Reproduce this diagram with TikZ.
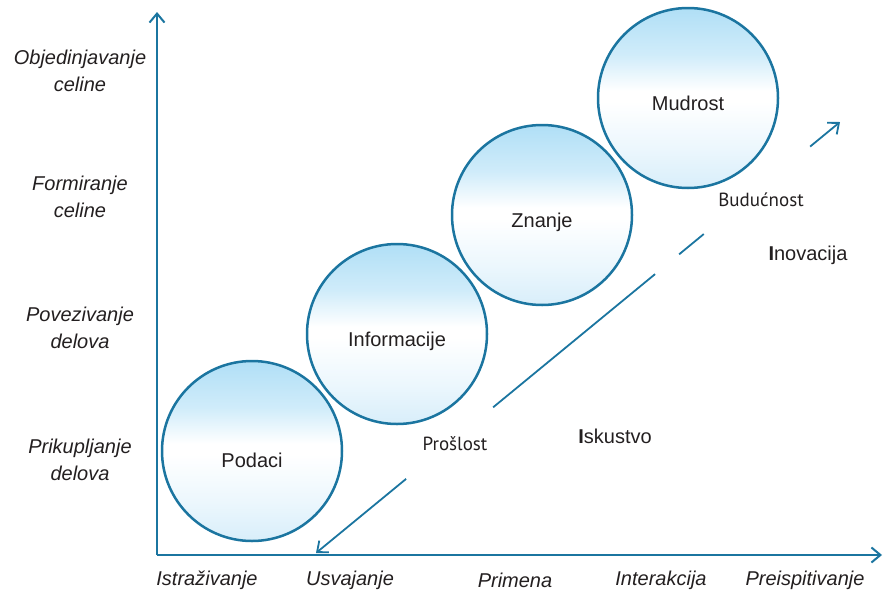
\documentclass[tikz,border=0pt]{standalone}
\usepackage{fontspec}
\setmainfont{Liberation Sans}
\newfontfamily\timefont{PT Sans}
\usetikzlibrary{arrows.meta,calc}

\definecolor{axisblue}{RGB}{27,117,160}
\definecolor{balltop}{RGB}{176,223,246}
\definecolor{ballupper}{RGB}{208,236,250}
\definecolor{balllower}{RGB}{236,247,253}
\definecolor{ballbottom}{RGB}{216,238,250}
\definecolor{inktext}{RGB}{35,31,32}

\pgfdeclareverticalshading{ballshade}{100bp}{color(0bp)=(ballbottom); color(25bp)=(ballbottom);
  color(36bp)=(balllower); color(49bp)=(white); color(52bp)=(white); color(62bp)=(ballupper);
  color(75bp)=(balltop); color(100bp)=(balltop)}

\tikzset{
  axis/.style={draw=axisblue,line width=2pt,-{Straight Barb[length=9pt,width=15pt]}},
  path/.style={draw=axisblue,line width=1.8pt},
  ball/.style={circle,draw=axisblue,line width=2.5pt,minimum size=180pt,inner sep=0pt,
    shading=ballshade,text=inktext,text height=28.5pt,text depth=4.2pt,
    font=\fontsize{20}{24}\selectfont},
  ylab/.style={align=center,text=inktext,font=\fontsize{20}{27}\selectfont\itshape},
  xlab/.style={text=inktext,font=\fontsize{20}{24}\selectfont\itshape},
  note/.style={text=inktext,font=\fontsize{20}{24}\selectfont}
}

\begin{document}
\begin{tikzpicture}[x=1pt,y=-1pt]
  \useasboundingbox (0,0) rectangle (886,592);

  \coordinate (origin) at (157,555);
  \coordinate (ytop) at (157,12);
  \coordinate (xend) at (882,555);
  \draw[axis] (origin) -- (ytop);
  \draw[axis] (origin) -- (xend);

  \node[ylab] (y1) at (80,460) {Prikupljanje\\delova};
  \node[ylab] (y2) at (80,328) {Povezivanje\\delova};
  \node[ylab] (y3) at (80,197) {Formiranje\\celine};
  \node[ylab] (y4) at (80,71) {Objedinjavanje\\celine};

  \node[xlab] (x1) at (207,580) {Istraživanje};
  \node[xlab] (x2) at (350,580) {Usvajanje};
  \node[xlab] (x3) at (515,580) {Primena};
  \node[xlab] (x4) at (661,580) {Interakcija};
  \node[xlab] (x5) at (805,580) {Preispitivanje};

  \node[ball,text height=38pt] (podaci) at (252,451) {Podaci};
  \node[ball] (informacije) at (397,334) {Informacije};
  \node[ball] (znanje) at (542,215) {Znanje};
  \node[ball] (mudrost) at (688,98) {Mudrost};

  % time line, broken where the labels sit
  \coordinate (past) at (316,553);
  \coordinate (future) at (840,122);
  \draw[path,{Straight Barb[length=9pt,width=15pt]}-] (past) -- ($(past)!0.172!(future)$);
  \draw[path] ($(past)!0.338!(future)$) -- ($(past)!0.647!(future)$);
  \draw[path] ($(past)!0.693!(future)$) -- ($(past)!0.740!(future)$);
  \draw[path,-{Straight Barb[length=9pt,width=15pt]}] ($(past)!0.943!(future)$) -- (future);

  \node[note,font=\timefont\fontsize{19}{24}\selectfont] (proslost) at (455,444) {Prošlost};
  \node[note,font=\timefont\fontsize{19}{24}\selectfont] (buducnost) at (761,200) {Budućnost};
  \node[note] (iskustvo) at (615,436) {{\bfseries I}skustvo};
  \node[note] (inovacija) at (808,255) {{\bfseries I}novacija};
\end{tikzpicture}
\end{document}
